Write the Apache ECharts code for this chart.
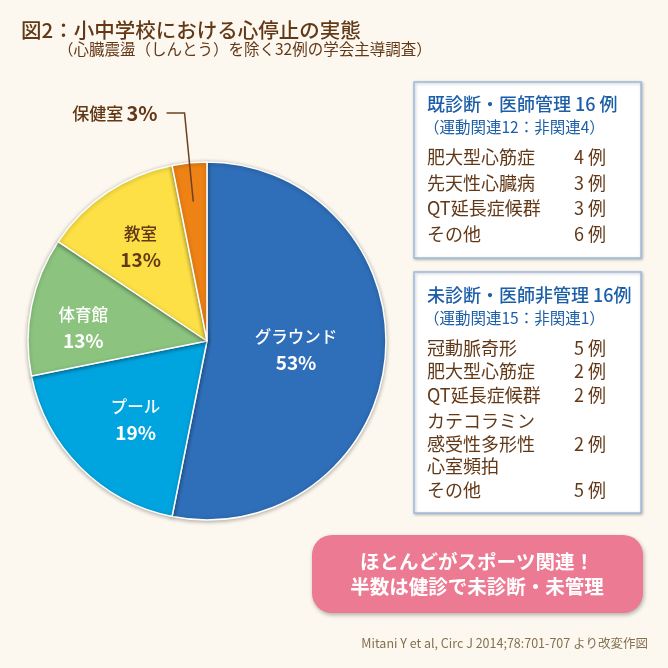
<!DOCTYPE html>
<html>
<head>
<meta charset="utf-8">
<script src="https://cdn.jsdelivr.net/npm/echarts@6/dist/echarts.min.js"></script>
<style>
html,body{margin:0;padding:0;background:#fcf8ef;}
#main{width:668px;height:668px;}
</style>
</head>
<body>
<div id="main"></div>
<script>
// ---- data ----
const titleText = '図2：小中学校における心停止の実態';
const subtitleText = '（心臓震盪（しんとう）を除く32例の学会主導調査）';
const categories = ['グラウンド', 'プール', '体育館', '教室', '保健室'];
const caseCounts = [17, 6, 4, 4, 1];
const percentLabels = ['53%', '19%', '13%', '13%', '3%'];
const sliceColors = ['#2f6eb8', '#00a5e0', '#8cc47f', '#fce045', '#ee8214'];

const managedTitle = '既診断・医師管理 16 例';
const managedSub = '（運動関連12：非関連4）';
const managedDiseases = ['肥大型心筋症', '先天性心臓病', 'QT延長症候群', 'その他'];
const managedCounts = [4, 3, 3, 6];

const unmanagedTitle = '未診断・医師非管理 16例';
const unmanagedSub = '（運動関連15：非関連1）';
const unmanagedDiseases = ['冠動脈奇形', '肥大型心筋症', 'QT延長症候群', 'カテコラミン\n感受性多形性\n心室頻拍', 'その他'];
const unmanagedCounts = [5, 2, 2, 2, 5];

const calloutLines = ['ほとんどがスポーツ関連！', '半数は健診で未診断・未管理'];
const citationText = 'Mitani Y et al, Circ J 2014;78:701-707 より改変作図';

// ---- styling / layout ----
const FONT = '"Noto Sans CJK JP", "Noto Sans", sans-serif';
const BROWN = '#633817';
const BLUE = '#1d5ea8';
const labelColors = ['#ffffff', '#ffffff', '#ffffff', '#633817', '#633817'];
const labelShift = [[-3, 0], [-6, 13], [-33, 5], [-15, -17], [0, 0]];

const chart = echarts.init(document.getElementById('main'));

function txt(x, y, text, size, color, weight, align, extra) {
  return {
    type: 'text', x: x, y: y, silent: true, z: 10,
    style: Object.assign({
      text: text, fontSize: size, fontFamily: FONT, fontWeight: weight || 'normal',
      fill: color, align: align || 'left', verticalAlign: 'middle'
    }, extra || {})
  };
}

const graphics = [];
// title
graphics.push(txt(21, 30, titleText, 20.5, BROWN, 500));
graphics.push(txt(58, 49, subtitleText, 15.5, BROWN, 'normal'));

// boxes
function box(top, height) {
  return {
    type: 'rect', silent: true, z: 1,
    shape: { x: 414, y: top, width: 227, height: height },
    style: { fill: '#ffffff', stroke: '#9dbbe0', lineWidth: 1.5,
      shadowBlur: 3, shadowColor: 'rgba(0,0,0,0.25)', shadowOffsetX: 1, shadowOffsetY: 1 }
  };
}
graphics.push(box(82, 176));
graphics.push(box(272, 241));

graphics.push(txt(427, 104, managedTitle, 18, BLUE, 500));
graphics.push(txt(424, 127, managedSub, 15.5, BLUE, 'normal'));
const managedY = [157, 183, 208, 234];
managedDiseases.forEach((d, i) => {
  graphics.push(txt(427, managedY[i], d, 18, BROWN, 'normal'));
  graphics.push(txt(574, managedY[i], managedCounts[i] + ' 例', 18, BROWN, 'normal'));
});

graphics.push(txt(427, 295, unmanagedTitle, 18, BLUE, 500));
graphics.push(txt(424, 318, unmanagedSub, 15.5, BLUE, 'normal'));
const unmanagedY = [348, 371, 395, 444, 490];
unmanagedDiseases.forEach((d, i) => {
  graphics.push(txt(427, unmanagedY[i], d, 18, BROWN, 'normal', 'left', { lineHeight: 22.5 }));
  graphics.push(txt(574, unmanagedY[i], unmanagedCounts[i] + ' 例', 18, BROWN, 'normal'));
});

// callout
graphics.push({
  type: 'rect', silent: true, z: 1,
  shape: { x: 312, y: 535, width: 331, height: 78, r: 20 },
  style: { fill: '#ec7a93', shadowBlur: 4, shadowColor: 'rgba(0,0,0,0.3)', shadowOffsetX: 1, shadowOffsetY: 2 }
});
graphics.push(txt(477, 562, calloutLines[0], 19.5, '#ffffff', 'bold', 'center'));
graphics.push(txt(477, 587, calloutLines[1], 19.5, '#ffffff', 'bold', 'center'));

// citation
graphics.push(txt(648, 643, citationText, 12.5, '#85704f', 'normal', 'right'));

const mainData = categories.map((c, i) => ({
  name: c,
  value: caseCounts[i],
  pct: percentLabels[i],
  itemStyle: { color: sliceColors[i] },
  label: { show: i < 4, color: labelColors[i] }
}));

const calloutData = categories.map((c, i) => ({
  name: c,
  value: caseCounts[i],
  pct: percentLabels[i],
  label: { show: i === 4 },
  labelLine: { show: i === 4 }
}));

chart.setOption({
  backgroundColor: '#fcf8ef',
  animation: false,
  graphic: graphics,
  series: [
    {
      type: 'pie',
      center: [207, 341],
      radius: [0, 179],
      startAngle: 90,
      clockwise: true,
      silent: true,
      data: mainData,
      itemStyle: {
        borderColor: '#ffffff', borderWidth: 1.5,
        shadowBlur: 4, shadowColor: 'rgba(0,0,0,0.3)', shadowOffsetY: 1
      },
      label: {
        position: 'inside',
        fontFamily: FONT,
        lineHeight: 26,
        formatter: p => '{n|' + p.name + '}\n{p|' + p.data.pct + '}',
        rich: {
          n: { fontSize: 16.5, fontFamily: FONT, fontWeight: 500, lineHeight: 26 },
          p: { fontSize: 19, fontFamily: FONT, fontWeight: 'bold', lineHeight: 26 }
        }
      },
      labelLayout: p => ({ dx: labelShift[p.dataIndex][0], dy: labelShift[p.dataIndex][1] }),
      emphasis: { disabled: true }
    },
    {
      type: 'pie',
      center: [207, 341],
      radius: [0, 140],
      startAngle: 90,
      clockwise: true,
      silent: true,
      z: 3,
      data: calloutData,
      itemStyle: { color: 'rgba(0,0,0,0)', borderWidth: 0 },
      label: {
        position: 'outside',
        distanceToLabelLine: 9,
        color: BROWN,
        formatter: p => '{n|' + p.name + '} {p|' + p.data.pct + '}',
        rich: {
          n: { fontSize: 17, fontFamily: FONT, fontWeight: 500, color: BROWN },
          p: { fontSize: 20, fontFamily: FONT, fontWeight: 'bold', color: BROWN }
        }
      },
      labelLine: {
        length: 89, length2: 18,
        lineStyle: { color: '#6e4220', width: 1.5 }
      },
      emphasis: { disabled: true }
    }
  ]
});
</script>
</body>
</html>
